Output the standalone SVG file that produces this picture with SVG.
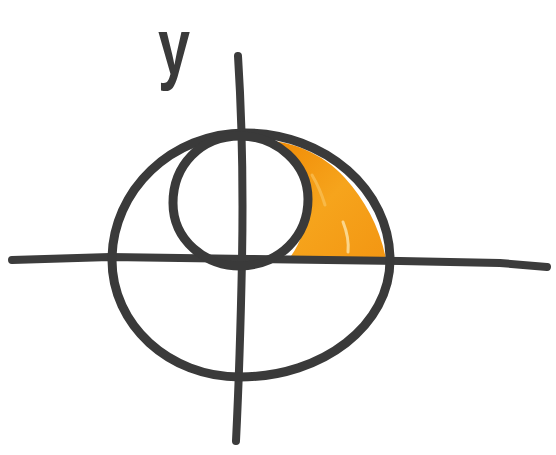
<svg xmlns="http://www.w3.org/2000/svg" width="556" height="455" viewBox="0 0 556 455">
  <defs>
    <linearGradient id="orangeFill" x1="0" y1="0" x2="1" y2="1">
      <stop offset="0" stop-color="#f08a05"/>
      <stop offset="0.5" stop-color="#f6a41c"/>
      <stop offset="1" stop-color="#f39612"/>
    </linearGradient>
    <style>
      .ink { fill: none; stroke: #3a3a3a; stroke-width: 9; stroke-linecap: round; stroke-linejoin: round; }
      .axis { fill: none; stroke: #3c3c3c; stroke-width: 8; stroke-linecap: round; stroke-linejoin: round; }
      .label { font-family: "Liberation Sans", "DejaVu Sans", sans-serif; font-size: 80px; font-weight: bold; fill: #3a3a3a; }
    </style>
  </defs>
  <rect width="556" height="455" fill="#ffffff"/>

  <g id="shaded-region">
    <path d="M270,141 C290,142 322,152 345,178 C365,200 380,228 386,259 L288,260 C300,245 308,225 307,198 C305,170 290,150 270,141 Z" fill="url(#orangeFill)"/>
    <path d="M343,222 C347,232 349,242 348,252" fill="none" stroke="#fde3a8" stroke-width="3" stroke-linecap="round" opacity="0.8"/>
    <path d="M312,175 C318,185 322,195 325,205" fill="none" stroke="#f9c25a" stroke-width="3" stroke-linecap="round" opacity="0.7"/>
  </g>

  <g id="axes">
    <path id="x-axis" class="axis" d="M12,260 L110,257 L250,259 L400,261 L500,263 L547,267"/>
    <path id="y-axis" class="axis" d="M238,56 Q244,150 242,260 Q240,360 236,441"/>
  </g>

  <g id="big-circle">
    <path class="ink" d="M245,133 C325,133 390,190 390,260 C390,325 323,377 240,377 C169,377 112,325 112,260 C112,190 172,133 245,133 Z"/>
  </g>

  <g id="small-circle">
    <path class="ink" d="M240,136 C277,136 308,164 308,199 C308,236 280,265 240,266 C205,266 173,240 173,203 C173,166 200,136 240,136 Z"/>
  </g>

  <g id="y-label">
    <text class="label" transform="translate(158,74) scale(0.72,1)" x="0" y="0">y</text>
  </g>
</svg>
